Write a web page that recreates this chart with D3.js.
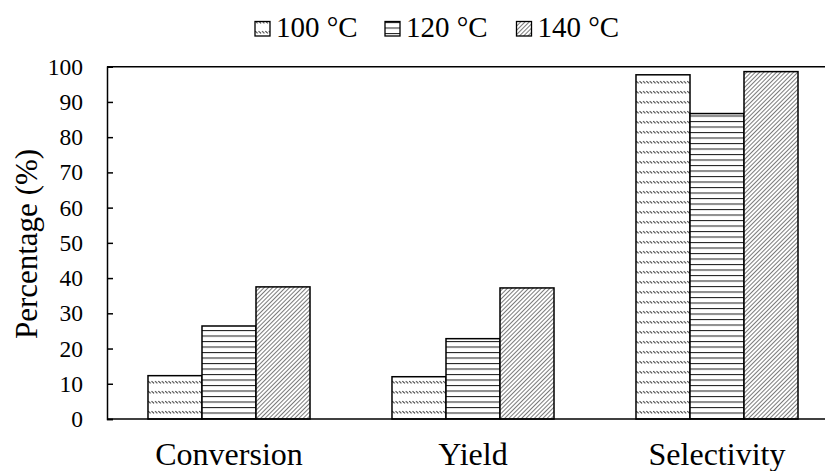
<!DOCTYPE html>
<html>
<head>
<meta charset="utf-8">
<script src="https://cdn.jsdelivr.net/npm/d3@7"></script>
<style>
  html, body { margin: 0; padding: 0; background: #fff; }
  svg { display: block; }
  text { font-family: "Liberation Serif", "Times New Roman", serif; fill: #000; }
</style>
</head>
<body>
<svg id="chart" width="825" height="471"></svg>
<script>
// Reaction performance at three temperatures
const categories = ["Conversion", "Yield", "Selectivity"];
const seriesNames = ["100 °C", "120 °C", "140 °C"];
const values100 = [12.3, 12.0, 97.7];
const values120 = [26.4, 22.8, 86.7];
const values140 = [37.5, 37.2, 98.6];
const yTicks = [0, 10, 20, 30, 40, 50, 60, 70, 80, 90, 100];

const seriesValues = [values100, values120, values140];
const patternIds = ["pat100", "pat120", "pat140"];
const serif = "Liberation Serif, Times New Roman, serif";

const svg = d3.select("#chart");
const margin = { left: 107, top: 66.7, bottom: 419, right: 839 };

// Hatch patterns
const defs = svg.append("defs");
// 100 °C: rows of short dashed back-slashes
const p1 = defs.append("pattern").attr("id", "pat100")
  .attr("patternUnits", "userSpaceOnUse").attr("width", 3.4).attr("height", 10);
p1.append("rect").attr("width", 3.4).attr("height", 10).attr("fill", "#fff");
p1.append("line").attr("x1", 0.2).attr("y1", 1).attr("x2", 2.6).attr("y2", 3.4)
  .attr("stroke", "#333").attr("stroke-width", 1);
// 120 °C: horizontal lines
const p2 = defs.append("pattern").attr("id", "pat120")
  .attr("patternUnits", "userSpaceOnUse").attr("width", 10).attr("height", 5.5);
p2.append("rect").attr("width", 10).attr("height", 5.5).attr("fill", "#fff");
p2.append("line").attr("x1", 0).attr("y1", 0.5).attr("x2", 10).attr("y2", 0.5)
  .attr("stroke", "#222").attr("stroke-width", 1.1);
// 140 °C: dense upward diagonals
const p3 = defs.append("pattern").attr("id", "pat140")
  .attr("patternUnits", "userSpaceOnUse").attr("width", 3).attr("height", 3)
  .attr("patternTransform", "rotate(45)");
p3.append("rect").attr("width", 3).attr("height", 3).attr("fill", "#fff");
p3.append("line").attr("x1", 0).attr("y1", 0).attr("x2", 0).attr("y2", 3)
  .attr("stroke", "#333").attr("stroke-width", 1.3);

// Scales
const x0 = d3.scaleBand().domain(categories)
  .range([margin.left, margin.right]).paddingInner(0.336).paddingOuter(0.168);
const x1 = d3.scaleBand().domain(seriesNames).range([0, x0.bandwidth()]);
const y = d3.scaleLinear().domain([0, 100]).range([margin.bottom, margin.top]);

// Bars
const groups = svg.append("g").selectAll("g")
  .data(categories)
  .join("g")
  .attr("transform", d => `translate(${x0(d)},0)`);

groups.selectAll("rect")
  .data((c, ci) => seriesNames.map((s, si) => ({ s, si, v: seriesValues[si][ci] })))
  .join("rect")
  .attr("x", d => x1(d.s))
  .attr("y", d => y(d.v))
  .attr("width", x1.bandwidth())
  .attr("height", d => y(0) - y(d.v))
  .attr("fill", d => `url(#${patternIds[d.si]})`)
  .attr("stroke", "#000")
  .attr("stroke-width", 1.5);

// Y axis with inward ticks
const yAxis = d3.axisLeft(y).tickValues(yTicks).tickSize(-6).tickPadding(24)
  .tickFormat(d3.format("d"));
const yg = svg.append("g").attr("transform", `translate(${margin.left},0)`).call(yAxis);
yg.select(".domain").attr("stroke", "#000").attr("stroke-width", 1.5);
yg.selectAll(".tick line").attr("stroke", "#000").attr("stroke-width", 1.5);
yg.selectAll(".tick text").attr("fill", "#000")
  .style("font-family", serif).style("font-size", "23.5px");

// Bottom and top frame lines
svg.append("line").attr("x1", margin.left).attr("x2", 825)
  .attr("y1", y(0)).attr("y2", y(0)).attr("stroke", "#000").attr("stroke-width", 1.5);
svg.append("line").attr("x1", margin.left).attr("x2", 825)
  .attr("y1", y(100)).attr("y2", y(100)).attr("stroke", "#000").attr("stroke-width", 1.5);

// Category labels
svg.append("g").selectAll("text")
  .data(categories)
  .join("text")
  .attr("x", d => x0(d) + x0.bandwidth() / 2)
  .attr("y", 465)
  .attr("text-anchor", "middle")
  .style("font-size", "32px")
  .text(d => d);

// Y axis title
svg.append("text")
  .attr("transform", "translate(37,244) rotate(-90)")
  .attr("text-anchor", "middle")
  .style("font-size", "31px")
  .text("Percentage (%)");

// Legend
const legendX = [255, 385, 516.5];
const legend = svg.append("g").selectAll("g")
  .data(seriesNames)
  .join("g")
  .attr("transform", (d, i) => `translate(${legendX[i]},0)`);
legend.append("rect")
  .attr("x", 0).attr("y", 21.5).attr("width", 15).attr("height", 14.5)
  .attr("fill", (d, i) => `url(#${patternIds[i]})`)
  .attr("stroke", "#000").attr("stroke-width", 1.3);
legend.append("text")
  .attr("x", 21).attr("y", 36.7)
  .style("font-size", "29px")
  .text(d => d);
</script>
</body>
</html>
